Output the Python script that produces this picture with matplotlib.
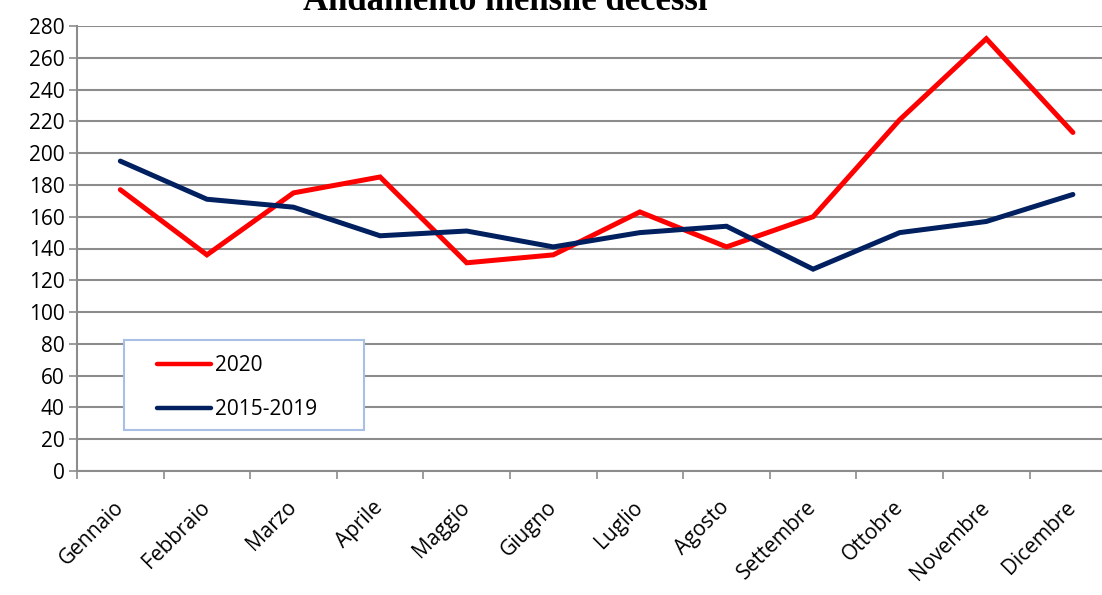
import numpy as np
import matplotlib.pyplot as plt
from matplotlib.patches import Rectangle

mesi = ['Gennaio', 'Febbraio', 'Marzo', 'Aprile', 'Maggio', 'Giugno',
        'Luglio', 'Agosto', 'Settembre', 'Ottobre', 'Novembre', 'Dicembre']
decessi_2020 = [177, 136, 175, 185, 131, 136, 163, 141, 160, 221, 272, 213]
decessi_2015_2019 = [195, 171, 166, 148, 151, 141, 150, 154, 127, 150, 157, 174]
y_ticks = list(range(0, 281, 20))

W, H = 1102, 595
fig = plt.figure(figsize=(W / 100, H / 100), dpi=100)
# the plot area runs past the right edge of the picture, as in the original
ax = fig.add_axes([77 / W, 1 - 471 / H, 12 * 86.6 / W, 445 / H])

x = np.arange(len(mesi))
ax.plot(x, decessi_2020, color='#ff0000', lw=3.6, label='2020',
        solid_joinstyle='miter', solid_capstyle='round', zorder=3)
ax.plot(x, decessi_2015_2019, color='#002060', lw=3.6, label='2015-2019',
        solid_joinstyle='miter', solid_capstyle='round', zorder=3)

ax.set_xlim(-0.5, 11.5)
ax.set_ylim(0, 280)
ax.set_yticks(y_ticks)
ax.set_yticklabels([str(v) for v in y_ticks], fontsize=15, family='Open Sans')
ax.yaxis.grid(True, color='#8c8c8c', lw=1.5)
ax.set_axisbelow(True)

ax.set_xticks(x)
ax.set_xticklabels(mesi, rotation=45, ha='right', va='center',
                   rotation_mode='anchor', fontsize=15, family='Open Sans')
for lab in ax.get_xticklabels():
    lab.set_x(lab.get_position()[0])
ax.set_xticks(np.arange(-0.5, 12, 1), minor=True)
ax.tick_params(axis='x', which='major', length=0, pad=24)
ax.tick_params(axis='x', which='minor', length=6, color='#8c8c8c', width=1.2)
ax.tick_params(axis='y', length=6, color='#8c8c8c', width=1.2, pad=3)

for s in ['top', 'right']:
    ax.spines[s].set_visible(False)
for s in ['left', 'bottom']:
    ax.spines[s].set_color('#8c8c8c')
    ax.spines[s].set_linewidth(1.5)

# legend box drawn separately so its size matches the original
box = Rectangle((124 / W, 1 - 430 / H), 240 / W, 90 / H,
                transform=fig.transFigure, facecolor='white',
                edgecolor='#a9c0e4', lw=1.5, zorder=4)
ax.add_artist(box)
box.set_clip_on(False)

leg = ax.legend(loc='upper left', bbox_to_anchor=(157 / W, 1 - 355 / H),
                bbox_transform=fig.transFigure,
                prop={'family': 'Open Sans', 'size': 15},
                frameon=False, borderpad=0, borderaxespad=0,
                handlelength=2.6, handletextpad=0.2, labelspacing=1.1)
leg.set_zorder(5)
for h in leg.get_lines():
    h.set_linewidth(3.2)

fig.text(505 / W, 1 - 10 / H, 'Andamento mensile decessi', ha='center',
         va='baseline', fontsize=25, fontweight='bold',
         family='Liberation Serif')

plt.savefig('out.png', dpi=100)
